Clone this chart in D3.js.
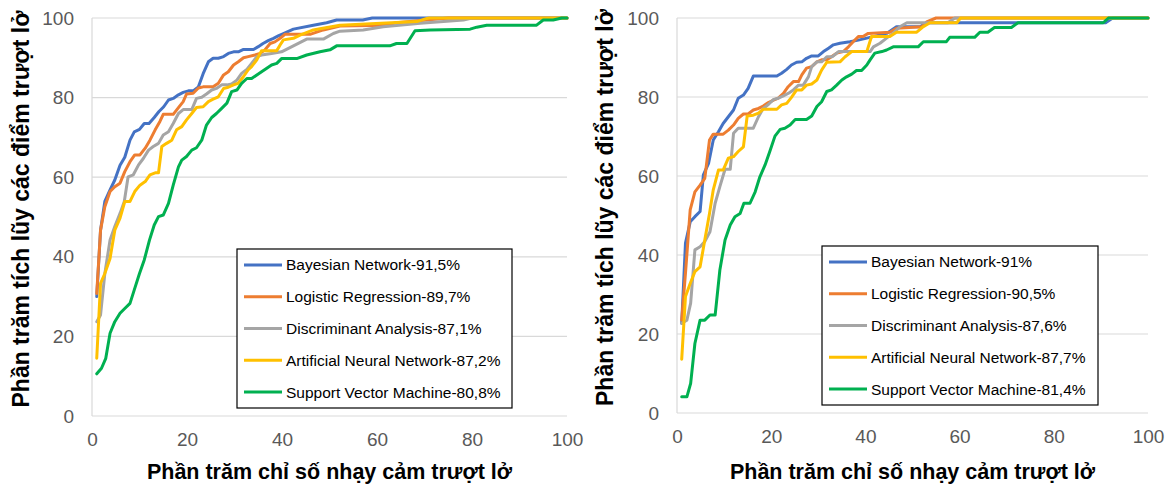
<!DOCTYPE html>
<html>
<head>
<meta charset="utf-8">
<script src="https://cdn.jsdelivr.net/npm/d3@7"></script>
<style>
  html, body { margin: 0; padding: 0; background: #fff; }
  svg { display: block; }
</style>
</head>
<body>
<svg id="chart" width="1171" height="486"></svg>
<script>
// ---------------- DATA ----------------
const xTicks = [0, 20, 40, 60, 80, 100];
const yTicks = [0, 20, 40, 60, 80, 100];
const xTitle = "Phần trăm chỉ số nhạy cảm trượt lở";
const yTitle = "Phần trăm tích lũy các điểm trượt lở";
const seriesColors = ["#4472C4", "#ED7D31", "#A5A5A5", "#FFC000", "#00B050"];

const leftLabels = ["Bayesian Network-91,5%", "Logistic Regression-89,7%", "Discriminant Analysis-87,1%", "Artificial Neural Network-87,2%", "Support Vector Machine-80,8%"];
const rightLabels = ["Bayesian Network-91%", "Logistic Regression-90,5%", "Discriminant Analysis-87,6%", "Artificial Neural Network-87,7%", "Support Vector Machine-81,4%"];

// [x, y] pairs: percent of susceptibility index vs cumulative percent of landslides
const leftBN = [[1,30],[1.8,46.7],[2.7,53.9],[3.8,56.8],[4.8,59.3],[5.9,63],[6.9,65],[8,69.3],[8.9,71.4],[10,72],[11,73.5],[12,73.5],[13.1,75],[14.1,76.5],[15.1,77.7],[16.1,79.4],[17.1,79.8],[18.2,80.7],[19.2,81.3],[20.3,81.7],[21.3,81.7],[22.4,82.7],[23.4,86],[24.5,89],[25.5,89.9],[26.6,89.9],[27.7,90.3],[28.7,91.1],[29.8,91.5],[30.8,91.5],[31.9,92.1],[34,92.1],[35,92.8],[36,93.6],[37.1,94.3],[38.2,94.9],[39.2,95.5],[40.3,96.1],[42.4,97.2],[46.6,98.2],[49.4,98.8],[51.5,99.5],[57,99.5],[59,100],[100,100]];
const leftLR = [[1,30.8],[1.8,46.7],[2.7,52.6],[3.8,56.4],[4.8,57.6],[5.9,58.5],[6.9,61.4],[8,63.9],[9,65.6],[10.1,65.6],[11.2,67.3],[12.2,69.3],[13.3,71.9],[14.3,74],[15,75.8],[17.1,75.8],[18.2,77.5],[19.2,79],[19.9,80.9],[21.3,81.1],[22.4,82.4],[23.4,82.7],[25.5,82.7],[26.6,83.6],[27.7,85.7],[28.7,86.5],[29.8,88.2],[30.8,89],[31.9,90],[32.9,90.3],[34.3,90.7],[35.4,91.1],[36.4,92],[37.5,93.6],[38.5,94],[39.6,94.9],[40.6,95.9],[45.9,95.9],[48.7,97],[52.2,98],[62,98.2],[64,98.8],[70.5,99.5],[75,100],[100,100]];
const leftDA = [[1,23.7],[1.8,25.4],[2.7,35.8],[3.8,44.2],[4.8,47.6],[5.9,50.9],[6.8,53.9],[7.6,60.1],[8.7,60.6],[9.8,63.1],[10.8,64.7],[11.9,66.8],[12.9,67.7],[14,68.5],[15,70.6],[16.1,71.4],[17.1,73.5],[18.2,76],[19.2,77],[21,77],[22,79.8],[23.1,80.1],[24.1,80.9],[25.2,81.9],[26.2,82.3],[27.3,83.2],[28.4,83.2],[29.4,83.4],[30.5,84.4],[31.5,86.1],[32.6,87.1],[33.6,88.6],[34.7,90.3],[35.7,90.7],[37.8,91.1],[39.9,91.5],[42.4,93],[45.2,94.7],[48.7,94.7],[50.8,96.1],[52.2,96.7],[57.1,97],[61.3,97.8],[69.1,98.7],[78.2,99.5],[80,100],[100,100]];
const leftANN = [[1,14.5],[1.8,33.3],[2.7,35.8],[3.8,39.6],[4.8,46.7],[5.9,49.7],[6.9,53.9],[8,53.9],[9,56.4],[10.1,58],[11.2,58.9],[12.2,60.6],[13.3,61.1],[14,61.1],[14.7,67.7],[15.7,68.5],[16.8,69.3],[17.8,71.9],[18.9,72.7],[19.9,74.4],[21,76],[22,77.5],[23.4,77.7],[24.5,79],[25.5,79.6],[26.6,80.2],[27.7,82.3],[28.7,82.6],[29.8,83.2],[30.8,83.6],[31.9,85.3],[32.9,87],[33.6,87.8],[34.7,89.5],[35.7,91.8],[38.9,91.8],[39.6,93.2],[40.3,94.5],[42.4,94.9],[43.8,95.7],[46.6,97],[48,97.3],[52.2,98.2],[68.4,99.1],[70.5,99.9],[71,100],[100,100]];
const leftSVM = [[1,10.6],[2,12],[2.9,14.5],[3.8,20.8],[4.8,23.7],[5.9,25.8],[6.9,27],[8,28.3],[8.9,31.7],[10,35.8],[11,39.2],[12.1,44.2],[13.1,48],[14,50.1],[15,50.5],[16.1,53.4],[17.1,58],[18.2,62.6],[18.9,64.3],[19.9,65.2],[21,66.8],[22,67.4],[23.1,69.3],[24.1,73.1],[25.2,75],[26.2,76],[27.3,77.3],[28.4,78.6],[29.4,81.5],[30.5,81.9],[31.5,83.6],[32.6,84.8],[33.6,84.8],[34.7,85.7],[35.7,86.5],[36.8,87.4],[37.8,88.2],[38.9,88.6],[39.9,89.8],[43.1,89.8],[45.2,90.7],[48,91.5],[50.1,92],[51.5,93],[62.7,93],[64.1,93.6],[66.3,93.6],[68,96.8],[71.2,97],[79.6,97.2],[81,97.7],[83.1,98.2],[93.6,98.2],[95,99.5],[97.1,99.5],[98.9,100],[100,100]];

const rightBN = [[1,22.7],[1.8,43],[2.8,48.4],[3.8,49.7],[4.9,51],[5.6,60.3],[6.7,63.2],[7.7,69.1],[8.8,71.2],[9.8,73.3],[10.9,75],[12,76.7],[13,79.7],[14.1,80.5],[15.1,82.2],[16.2,85.3],[21.2,85.3],[22.2,86],[23.3,87],[24.3,88.1],[25.4,88.8],[26.5,88.9],[27.5,89.8],[28.6,90.4],[30,90.4],[31.1,91.5],[32.1,92.3],[33.2,93.2],[34.6,93.6],[36.7,94],[38.5,94.4],[40.3,94.9],[44.5,96.1],[46.6,97.8],[51.6,97.8],[53,98.8],[91,98.8],[92.5,100],[100,100]];
const rightLR = [[1,23.5],[1.8,35.4],[2.8,51.4],[3.8,56],[4.9,57.7],[5.9,59.4],[6.9,69.1],[7.7,70.6],[9.8,70.6],[10.9,71.6],[12,72.9],[13,74.6],[14.1,75.7],[15.1,75.7],[16.2,76.7],[17.3,77.1],[18.3,77.7],[19.4,78.6],[20.5,79.2],[21.5,79.7],[22.6,80.9],[23.6,82.6],[24.7,83.9],[25.8,83.9],[26.5,85.6],[27.5,87.3],[28.6,87.7],[29.7,88.9],[30.7,89.4],[31.8,89.4],[32.8,90.2],[33.9,91.1],[35.3,91.5],[36.4,92.7],[37.4,94],[38.5,95.3],[39.5,95.3],[40.6,96.1],[45.2,96.4],[46.6,97.4],[52,97.8],[53,99],[55,100],[100,100]];
const rightDA = [[1,22.7],[2.1,23.5],[2.9,27.8],[3.8,41.3],[4.9,42.1],[5.9,43.4],[7,45.9],[8.1,53.1],[9.1,57.3],[10.2,61.7],[11.3,61.7],[12,70.8],[13,72.1],[16.2,72.1],[17.3,75],[18.3,77.1],[19.4,78.1],[20.5,79.4],[21.5,79.7],[22.6,80.3],[23.6,80.9],[24.7,81.8],[25.8,83],[26.8,83],[27.9,85.1],[28.6,87.7],[29.7,88.9],[30.7,88.9],[31.8,90.2],[33,90.2],[34.3,91.5],[41,91.5],[41.7,92.7],[43.1,93.6],[44.5,94.9],[45.9,96.1],[47.3,97.8],[48.8,98.8],[57.5,98.8],[59,100],[100,100]];
const rightANN = [[1,13.6],[1.8,29.5],[2.8,32.8],[3.8,35.8],[4.9,37],[5.9,43.8],[6.9,50.5],[7.7,56.5],[8.8,61.5],[9.8,61.5],[10.9,64.5],[12,64.9],[13,66.2],[14.1,67.4],[14.9,75.2],[16.2,75.4],[17.3,75.9],[18.3,76.9],[21.2,76.9],[22.2,78],[23.3,78.4],[24.3,79.9],[25.4,81.8],[26.5,81.8],[27.5,83],[28.6,83.3],[29.7,84.3],[30.7,86.8],[31.8,88.8],[34.6,88.9],[35.7,90.2],[37.1,91.5],[40.3,91.5],[41.3,95.3],[45.2,95.3],[46.6,96.4],[50.9,96.4],[52.3,97.8],[53.7,98.8],[59.4,98.8],[60.2,100],[100,100]];
const rightSVM = [[1,4.1],[2.1,4.1],[2.9,7.5],[3.8,17.6],[4.9,23.5],[5.9,23.5],[7,24.8],[8.1,24.8],[9.1,36.2],[10.2,43.8],[11.3,47.6],[12.3,49.7],[13.4,50.5],[14.2,53.1],[15.5,53.1],[16.6,56],[17.6,59.8],[18.7,62.8],[19.7,66.2],[20.8,70.1],[21.9,71.8],[22.9,72.1],[24,72.9],[25.1,74.3],[27.5,74.3],[28.6,75.2],[29.7,77.6],[30.7,78.8],[31.8,81.4],[32.8,81.8],[33.9,83],[35,84.3],[36,85.1],[37.1,85.8],[38.1,86.7],[39.2,86.7],[40.3,88.1],[41,89.4],[42,91.1],[43.5,91.5],[44.5,91.9],[45.9,92.7],[51.2,92.7],[52.3,94],[57.2,94],[57.9,95.1],[63.2,95.1],[64.3,96.4],[66,96.4],[67.4,97.6],[71,97.6],[72.4,98.8],[90.5,98.8],[91.6,100],[100,100]];

// ---------------- DRAW ----------------
const svg = d3.select("#chart");
svg.append("rect").attr("width", 1171).attr("height", 486).attr("fill", "#fff");

const FONT = "'Liberation Sans', Arial, sans-serif";

function drawPanel(cfg) {
  const x = d3.scaleLinear().domain([0, 100]).range([cfg.left, cfg.right]);
  const y = d3.scaleLinear().domain([0, 100]).range([cfg.bottom, cfg.top]);
  const g = svg.append("g");

  // gridlines
  g.append("g").selectAll("line").data(yTicks.filter(t => t > 0)).join("line")
    .attr("x1", x(0)).attr("x2", x(100))
    .attr("y1", d => y(d)).attr("y2", d => y(d))
    .attr("stroke", "#D9D9D9").attr("stroke-width", 1.2);

  // axes lines
  g.append("line").attr("x1", x(0)).attr("x2", x(100)).attr("y1", y(0)).attr("y2", y(0))
    .attr("stroke", "#D9D9D9").attr("stroke-width", 1.2);
  g.append("line").attr("x1", x(0)).attr("x2", x(0)).attr("y1", y(0)).attr("y2", y(100))
    .attr("stroke", "#D9D9D9").attr("stroke-width", 1.2);

  // tick labels
  const xAxis = d3.axisBottom(x).tickValues(xTicks).tickSize(0).tickPadding(17);
  const xa = g.append("g").attr("transform", `translate(0,${y(0)})`).call(xAxis);
  xa.select(".domain").remove();
  xa.selectAll("text").attr("font-family", FONT).attr("font-size", 19).attr("fill", "#595959");

  const yAxis = d3.axisLeft(y).tickValues(yTicks).tickSize(0).tickPadding(18);
  const ya = g.append("g").attr("transform", `translate(${x(0)},0)`).call(yAxis);
  ya.select(".domain").remove();
  ya.selectAll("text").attr("font-family", FONT).attr("font-size", 19).attr("fill", "#595959");

  // axis titles
  g.append("text").attr("x", (x(0) + x(100)) / 2).attr("y", 479)
    .attr("text-anchor", "middle").attr("font-family", FONT).attr("font-weight", "bold")
    .attr("font-size", 21.5).attr("fill", "#000").text(xTitle);
  g.append("text")
    .attr("transform", `translate(${cfg.yTitleX},${(y(0) + y(100)) / 2 - 8}) rotate(-90)`)
    .attr("text-anchor", "middle").attr("font-family", FONT).attr("font-weight", "bold")
    .attr("font-size", 23).attr("fill", "#000").text(yTitle);

  // series lines
  const line = d3.line().x(d => x(d[0])).y(d => y(d[1]));
  g.append("g").selectAll("path").data(cfg.series).join("path")
    .attr("d", d => line(d))
    .attr("fill", "none")
    .attr("stroke", (d, i) => seriesColors[i])
    .attr("stroke-width", 3)
    .attr("stroke-linejoin", "round")
    .attr("stroke-linecap", "round");

  // legend
  const L = cfg.legend;
  const lg = g.append("g");
  lg.append("rect").attr("x", L.x).attr("y", L.y).attr("width", L.w).attr("height", L.h)
    .attr("fill", "#fff").attr("stroke", "#000").attr("stroke-width", 1.2);
  const rowH = L.h / cfg.labels.length;
  const items = lg.selectAll("g.item").data(cfg.labels).join("g").attr("class", "item")
    .attr("transform", (d, i) => `translate(${L.x},${L.y + rowH * (i + 0.5)})`);
  items.append("line").attr("x1", 7).attr("x2", 45).attr("y1", 0).attr("y2", 0)
    .attr("stroke", (d, i) => seriesColors[i]).attr("stroke-width", 3);
  items.append("text").attr("x", 49).attr("y", 0).attr("dy", "0.35em")
    .attr("font-family", FONT).attr("font-size", 15.5).attr("fill", "#000")
    .text(d => d);
}

drawPanel({
  left: 92, right: 567, top: 18, bottom: 416, yTitleX: 29,
  series: [leftBN, leftLR, leftDA, leftANN, leftSVM],
  labels: leftLabels,
  legend: { x: 237, y: 249, w: 275, h: 159 }
});
drawPanel({
  left: 677, right: 1148, top: 18, bottom: 413, yTitleX: 613,
  series: [rightBN, rightLR, rightDA, rightANN, rightSVM],
  labels: rightLabels,
  legend: { x: 822, y: 246, w: 276, h: 159 }
});
</script>
</body>
</html>
